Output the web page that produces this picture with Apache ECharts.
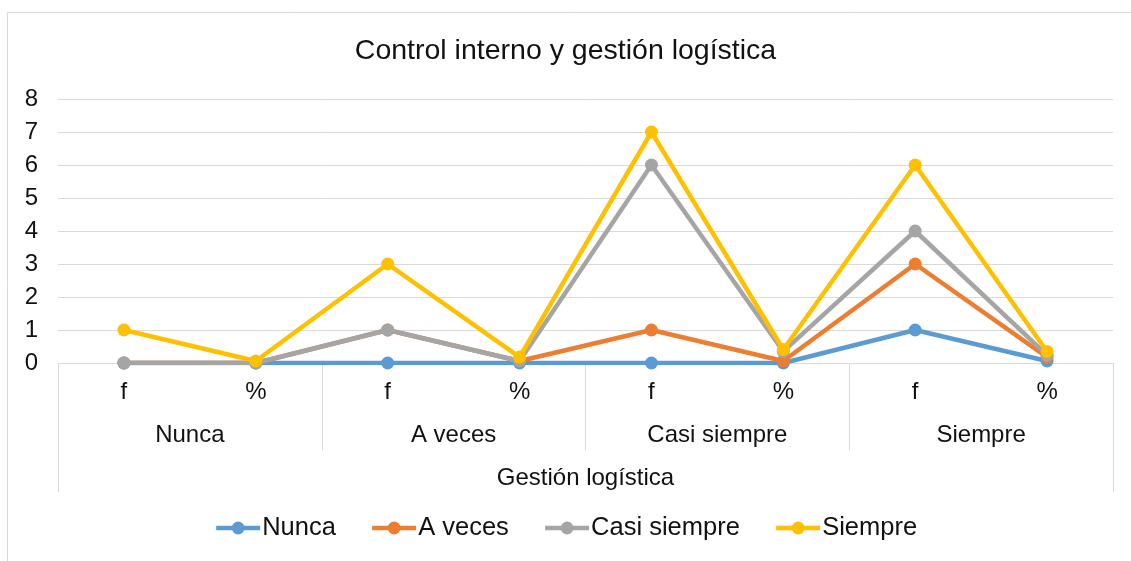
<!DOCTYPE html>
<html>
<head>
<meta charset="utf-8">
<script src="https://cdn.jsdelivr.net/npm/echarts@6/dist/echarts.min.js"></script>
<style>
  html, body { margin: 0; padding: 0; background: #fff; }
  #chart { width: 1131px; height: 561px; }
</style>
</head>
<body>
<div id="chart"></div>
<script>
// x labels: f / % under each response group
const subLabels = ["f", "%", "f", "%", "f", "%", "f", "%"];
const groups = ["Nunca", "A veces", "Casi siempre", "Siempre"];
const axisTitle = "Gestión logística";

// series values (% shown as fraction)
const nunca = [0, 0, 0, 0, 0, 0, 1, 0.06];
const aVeces = [0, 0, 1, 0.06, 1, 0.06, 3, 0.18];
const casiSiempre = [0, 0, 1, 0.06, 6, 0.35, 4, 0.24];
const siempre = [1, 0.06, 3, 0.18, 7, 0.41, 6, 0.35];

const seriesNames = ["Nunca", "A veces", "Casi siempre", "Siempre"];
const seriesData = [nunca, aVeces, casiSiempre, siempre];
const colors = ["#5B9BD5", "#ED7D31", "#A5A5A5", "#FFC000"];

const font = "Liberation Sans";
const labelSize = 24;
const chart = echarts.init(document.getElementById("chart"));

const option = {
  animation: false,
  color: colors,
  textStyle: { fontFamily: font },
  title: {
    text: "Control interno y gestión logística",
    left: "center",
    top: 32,
    textStyle: { fontFamily: font, fontSize: 28.5, fontWeight: "normal", color: "#111" }
  },
  graphic: [{
    type: "rect",
    shape: { x: 7.5, y: 12.5, width: 1140, height: 560 },
    style: { fill: "none", stroke: "#d9d9d9", lineWidth: 1 },
    silent: true
  }],
  legend: {
    bottom: 15,
    left: "center",
    itemWidth: 44,
    itemHeight: 16,
    itemGap: 34,
    lineStyle: { width: 4.5 },
    textStyle: { fontFamily: font, fontSize: 25.5, color: "#111", padding: [0, 0, 0, -3] },
    data: seriesNames
  },
  grid: { left: 58, right: 18, top: 99, bottom: 198 },
  xAxis: [
    {
      type: "category",
      data: subLabels,
      axisLine: { show: false },
      axisTick: { show: false },
      axisLabel: { fontFamily: font, fontSize: labelSize, color: "#111", margin: 17 }
    },
    {
      type: "category",
      data: groups,
      position: "bottom",
      axisLine: { show: false },
      axisTick: { show: true, length: 87, lineStyle: { color: "#d9d9d9" } },
      axisLabel: { fontFamily: font, fontSize: labelSize, color: "#111", margin: 60 }
    },
    {
      type: "category",
      data: [axisTitle],
      position: "bottom",
      axisLine: { show: false },
      axisTick: { show: true, length: 129, lineStyle: { color: "#d9d9d9" } },
      axisLabel: { fontFamily: font, fontSize: labelSize, color: "#111", margin: 103 }
    }
  ],
  yAxis: {
    type: "value",
    min: 0,
    max: 8,
    interval: 1,
    axisLine: { show: false },
    axisTick: { show: false },
    axisLabel: { fontFamily: font, fontSize: labelSize, color: "#111", margin: 20 },
    splitLine: { lineStyle: { color: "#d9d9d9", width: 1 } }
  },
  series: seriesNames.map((name, i) => ({
    name: name,
    type: "line",
    data: seriesData[i],
    symbol: "circle",
    symbolSize: 13,
    lineStyle: { width: 4.5, color: colors[i] },
    itemStyle: { color: colors[i] },
    z: 2 + i
  }))
};

chart.setOption(option);
</script>
</body>
</html>
